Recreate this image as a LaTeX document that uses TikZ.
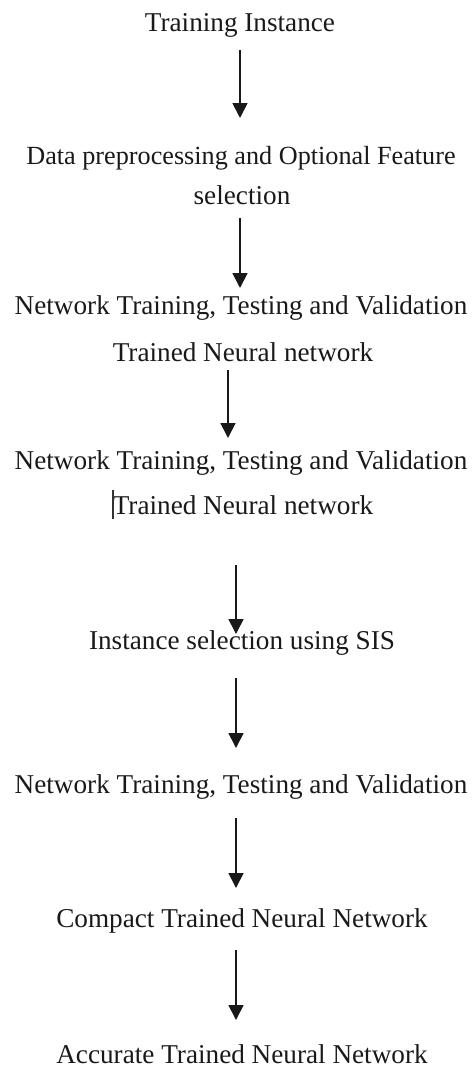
\documentclass[tikz,border=0pt]{standalone}
\usepackage{fontspec}
\setmainfont{Liberation Serif}
\usetikzlibrary{arrows.meta}
\tikzset{
  lbl/.style={anchor=base, inner sep=0pt, font=\fontsize{27.2}{31}\selectfont, text=black!90},
  lblsmall/.style={lbl, font=\fontsize{26.2}{30}\selectfont},
  arr/.style={line width=1.7pt, -{Triangle[length=15pt,width=15pt]}, black!90},
  cursor/.style={line width=1.2pt, black!80}
}
\begin{document}
\begin{tikzpicture}[x=1pt,y=1pt]
\useasboundingbox (0,0) rectangle (473,-1068);
% text lines
\node[lbl] (ti)  at (240,-31)   {Training Instance};
\node[lblsmall] (dp)  at (241,-164)  {Data preprocessing and Optional Feature};
\node[lbl] (sel) at (242,-204)  {selection};
\node[lbl] (nt1) at (241,-314)  {Network Training, Testing and Validation};
\node[lbl] (tn1) at (243,-361)  {Trained Neural network};
\node[lbl] (nt2) at (241,-469)  {Network Training, Testing and Validation};
\node[lbl] (tn2) at (243,-514)  {Trained Neural network};
\node[lbl] (is)  at (242,-649)  {Instance selection using SIS};
\node[lbl] (nt3) at (241,-793)  {Network Training, Testing and Validation};
\node[lbl] (ct)  at (242,-927)  {Compact Trained Neural Network};
\node[lbl] (ac)  at (242,-1063) {Accurate Trained Neural Network};
% text cursor before second "Trained"
\coordinate (cu1) at (113,-490);
\coordinate (cu2) at (113,-519);
\draw[cursor] (cu1) -- (cu2);
% arrow end points
\coordinate (a1s) at (240,-50);  \coordinate (a1e) at (240,-118);
\coordinate (a2s) at (240,-218); \coordinate (a2e) at (240,-288);
\coordinate (a3s) at (228,-370); \coordinate (a3e) at (228,-438);
\coordinate (a4s) at (236,-565); \coordinate (a4e) at (236,-634);
\coordinate (a5s) at (236,-678); \coordinate (a5e) at (236,-748);
\coordinate (a6s) at (236,-818); \coordinate (a6e) at (236,-888);
\coordinate (a7s) at (236,-950); \coordinate (a7e) at (236,-1020);
\draw[arr] (a1s) -- (a1e);
\draw[arr] (a2s) -- (a2e);
\draw[arr] (a3s) -- (a3e);
\draw[arr] (a4s) -- (a4e);
\draw[arr] (a5s) -- (a5e);
\draw[arr] (a6s) -- (a6e);
\draw[arr] (a7s) -- (a7e);
\end{tikzpicture}
\end{document}
